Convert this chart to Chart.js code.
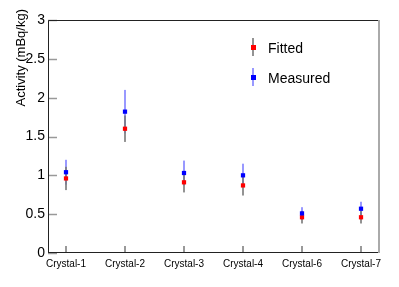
<!DOCTYPE html>
<html>
<head>
<meta charset="utf-8">
<script src="https://cdn.jsdelivr.net/npm/chart.js@4"></script>
<style>
  html, body { margin: 0; padding: 0; background: #fff; }
  #wrap { width: 399px; height: 287px; }
</style>
</head>
<body>
<div id="wrap"><canvas id="c" width="399" height="287"></canvas></div>
<script>
const crystals = ["Crystal-1", "Crystal-2", "Crystal-3", "Crystal-4", "Crystal-6", "Crystal-7"];
const fitted = [0.96, 1.60, 0.91, 0.87, 0.46, 0.46];
const fittedErr = [0.15, 0.17, 0.13, 0.13, 0.08, 0.08];
const measured = [1.04, 1.82, 1.03, 1.00, 0.51, 0.57];
const measuredErr = [0.16, 0.28, 0.16, 0.15, 0.08, 0.09];
const yTicks = [0, 0.5, 1, 1.5, 2, 2.5, 3];

const FONT = "'Liberation Sans', Arial, sans-serif";

// error bars, frame, inner ticks, legend and axis title
const rootStyle = {
    id: "rootStyle",
    beforeDatasetsDraw(chart) {
        const { ctx, scales: { x, y } } = chart;
        ctx.save();
        ctx.lineWidth = 2;
        ctx.strokeStyle = "rgba(0,0,255,0.4)";
        measured.forEach((v, i) => {
            const px = x.getPixelForValue(i);
            ctx.beginPath();
            ctx.moveTo(px, y.getPixelForValue(v - measuredErr[i]));
            ctx.lineTo(px, y.getPixelForValue(v + measuredErr[i]));
            ctx.stroke();
        });
        ctx.strokeStyle = "rgba(120,120,120,0.8)";
        fitted.forEach((v, i) => {
            const px = x.getPixelForValue(i);
            ctx.beginPath();
            ctx.moveTo(px, y.getPixelForValue(v - fittedErr[i]));
            ctx.lineTo(px, y.getPixelForValue(v + fittedErr[i]));
            ctx.stroke();
        });
        ctx.restore();
    },
    afterDraw(chart) {
        const { ctx, chartArea: a, scales: { x, y } } = chart;
        ctx.save();
        // inner ticks
        ctx.strokeStyle = "#999";
        ctx.lineWidth = 1.5;
        yTicks.forEach(v => {
            const py = Math.round(y.getPixelForValue(v)) + 0.5;
            ctx.beginPath();
            ctx.moveTo(a.left, py);
            ctx.lineTo(a.left + 9, py);
            ctx.stroke();
        });
        ctx.lineWidth = 2;
        crystals.forEach((c, i) => {
            const px = x.getPixelForValue(i);
            ctx.beginPath();
            ctx.moveTo(px, a.bottom);
            ctx.lineTo(px, a.bottom - 7);
            ctx.stroke();
        });
        // frame
        ctx.lineWidth = 1;
        ctx.strokeStyle = "#222";
        ctx.beginPath();
        ctx.moveTo(a.left + 0.5, a.bottom);
        ctx.lineTo(a.left + 0.5, a.top + 0.5);
        ctx.lineTo(a.right, a.top + 0.5);
        ctx.moveTo(a.left, a.bottom - 0.5);
        ctx.lineTo(a.right, a.bottom - 0.5);
        ctx.stroke();
        ctx.strokeStyle = "#aaa";
        ctx.lineWidth = 2;
        ctx.beginPath();
        ctx.moveTo(a.right, a.top);
        ctx.lineTo(a.right, a.bottom);
        ctx.stroke();

        // legend
        const items = [
            { label: "Fitted", y: 47, bar: "rgba(120,120,120,0.8)", mark: "#ff0000" },
            { label: "Measured", y: 77, bar: "rgba(0,0,255,0.4)", mark: "#0000ff" }
        ];
        items.forEach(it => {
            ctx.strokeStyle = it.bar;
            ctx.lineWidth = 2;
            ctx.beginPath();
            ctx.moveTo(253, it.y - 9);
            ctx.lineTo(253, it.y + 9);
            ctx.stroke();
            ctx.fillStyle = it.mark;
            ctx.fillRect(251, it.y - 2, 5, 5);
            ctx.fillStyle = "#000";
            ctx.font = "14px " + FONT;
            ctx.textAlign = "left";
            ctx.textBaseline = "alphabetic";
            ctx.fillText(it.label, 268, it.y + 6);
        });

        // y axis title
        ctx.translate(21, 9);
        ctx.rotate(-Math.PI / 2);
        ctx.textAlign = "right";
        ctx.textBaseline = "middle";
        ctx.font = "13px " + FONT;
        ctx.fillText("Activity (mBq/kg)", 0, 0);
        ctx.restore();
    }
};

new Chart(document.getElementById("c"), {
    type: "scatter",
    data: {
        datasets: [
            {
                label: "Fitted",
                data: fitted.map((v, i) => ({ x: i, y: v })),
                pointStyle: "rect",
                pointRadius: 3,
                pointBackgroundColor: "#ff0000",
                pointBorderWidth: 0,
                order: 2
            },
            {
                label: "Measured",
                data: measured.map((v, i) => ({ x: i, y: v })),
                pointStyle: "rect",
                pointRadius: 3,
                pointBackgroundColor: "#0000ff",
                pointBorderWidth: 0,
                order: 1
            }
        ]
    },
    options: {
        responsive: false,
        animation: false,
        layout: { padding: { left: 0, top: 20, right: 20, bottom: 0 } },
        plugins: { legend: { display: false }, tooltip: { enabled: false } },
        scales: {
            x: {
                type: "linear",
                min: -0.305,
                max: 5.305,
                grid: { display: false, drawTicks: false },
                border: { display: false },
                afterBuildTicks: s => { s.ticks = crystals.map((c, i) => ({ value: i })); },
                afterFit: s => { s.height = 34; },
                ticks: {
                    autoSkip: false,
                    maxRotation: 0,
                    padding: 5,
                    color: "#000",
                    font: { family: FONT, size: 10 },
                    callback: v => crystals[v]
                }
            },
            y: {
                min: 0,
                max: 3,
                grid: { display: false, drawTicks: false },
                border: { display: false },
                afterBuildTicks: s => { s.ticks = yTicks.map(v => ({ value: v })); },
                afterFit: s => { s.width = 48; },
                ticks: {
                    padding: 3,
                    color: "#000",
                    font: { family: FONT, size: 14 },
                    callback: v => String(v)
                }
            }
        }
    },
    plugins: [rootStyle]
});
</script>
</body>
</html>
